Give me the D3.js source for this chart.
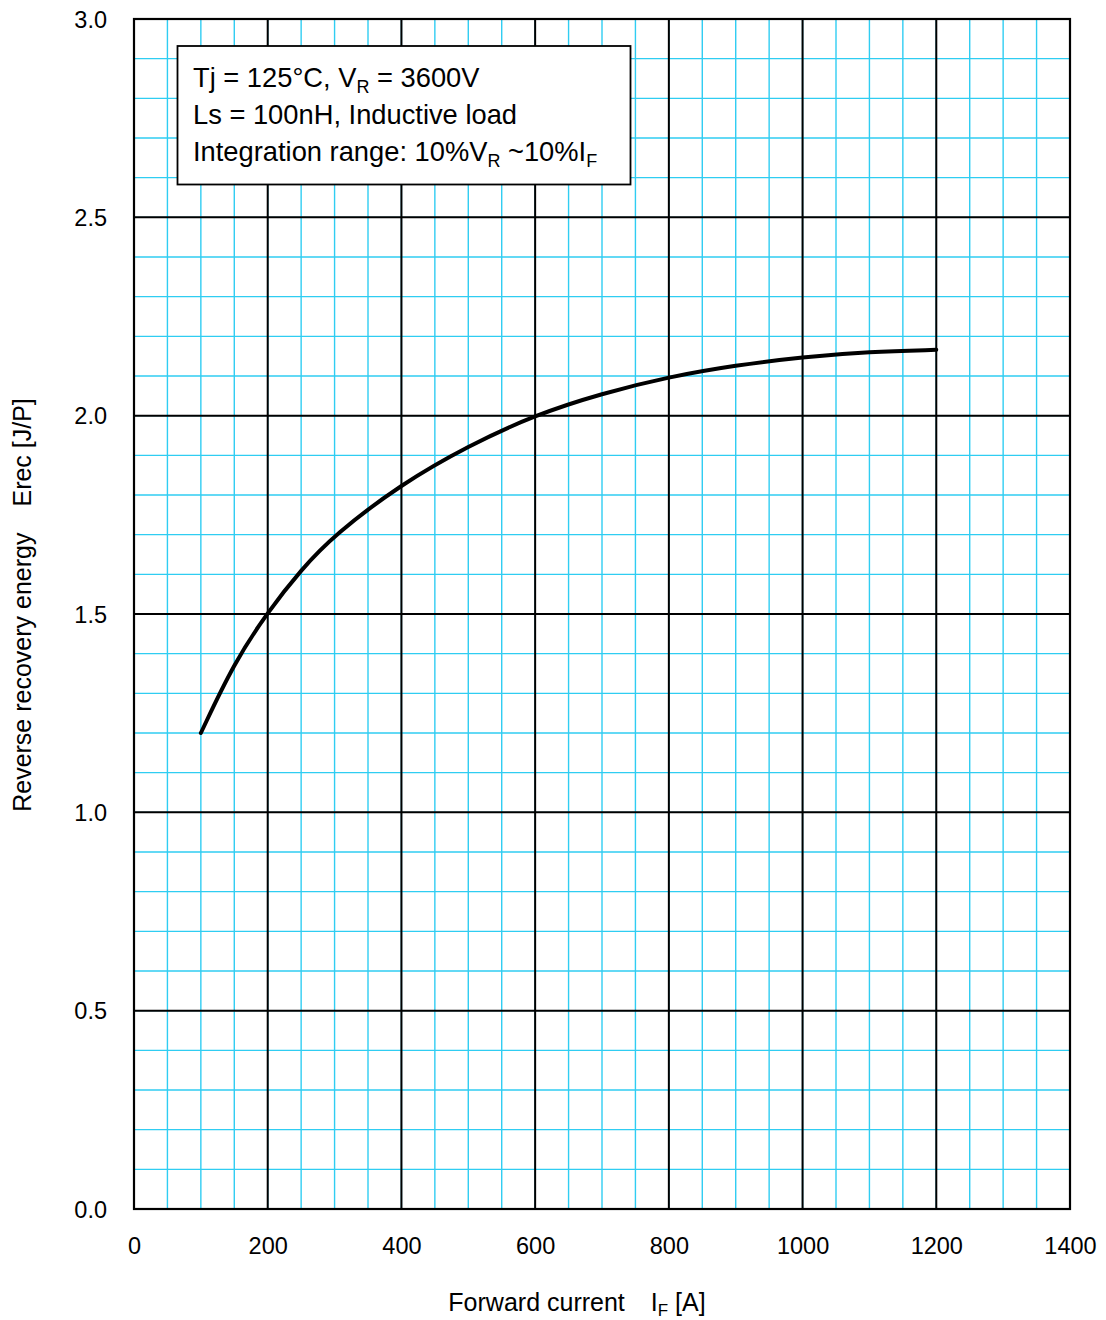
<!DOCTYPE html>
<html><head><meta charset="utf-8">
<script src="https://cdn.jsdelivr.net/npm/d3@7"></script>
<style>body{margin:0;background:#fff}svg{display:block;font-family:"Liberation Sans",Arial,sans-serif}</style>
</head><body>
<svg id="c" width="1106" height="1320"></svg>
<script>
const currentA = [100,150,200,250,300,400,500,600,700,800,900,1000,1100,1200];
const erecJ    = [1.20,1.378,1.505,1.612,1.700,1.828,1.924,2.002,2.056,2.098,2.127,2.148,2.161,2.166];
const xTicks = [0,200,400,600,800,1000,1200,1400];
const yTicks = [0,0.5,1.0,1.5,2.0,2.5,3.0];
const xMinor = d3.range(0,1401,50);
const yMinor = d3.range(0,31,1).map(v=>v/10);

const svg = d3.select("#c");
const L=134,R=1070,T=19,B=1209;
const x = d3.scaleLinear().domain([0,1400]).range([L,R]);
const y = d3.scaleLinear().domain([0,3]).range([B,T]);

// minor grid
svg.append("g").selectAll("line").data(xMinor).join("line")
  .attr("x1",d=>x(d)).attr("x2",d=>x(d)).attr("y1",T).attr("y2",B)
  .attr("stroke","#2fcdf2").attr("stroke-width",1.4);
svg.append("g").selectAll("line").data(yMinor).join("line")
  .attr("y1",d=>y(d)).attr("y2",d=>y(d)).attr("x1",L).attr("x2",R)
  .attr("stroke","#2fcdf2").attr("stroke-width",1.4);
// major grid
svg.append("g").selectAll("line").data(xTicks).join("line")
  .attr("x1",d=>x(d)).attr("x2",d=>x(d)).attr("y1",T).attr("y2",B)
  .attr("stroke","#000").attr("stroke-width",2);
svg.append("g").selectAll("line").data(yTicks).join("line")
  .attr("y1",d=>y(d)).attr("y2",d=>y(d)).attr("x1",L).attr("x2",R)
  .attr("stroke","#000").attr("stroke-width",2);
svg.append("rect").attr("x",L).attr("y",T).attr("width",R-L).attr("height",B-T)
  .attr("fill","none").attr("stroke","#000").attr("stroke-width",2.2);

// axes labels via d3 axes
const xAxis = d3.axisBottom(x).tickValues(xTicks).tickSize(0).tickPadding(0).tickFormat(d3.format("d"));
const gx = svg.append("g").attr("transform",`translate(0,${B})`).call(xAxis);
gx.select(".domain").remove();
gx.selectAll("text").attr("font-size",23.5).attr("fill","#000").attr("dy",null).attr("y",45)
  .attr("font-family","Liberation Sans, Arial, sans-serif");
const yAxis = d3.axisLeft(y).tickValues(yTicks).tickSize(0).tickPadding(0).tickFormat(d3.format(".1f"));
const gy = svg.append("g").attr("transform",`translate(${L},0)`).call(yAxis);
gy.select(".domain").remove();
gy.selectAll("text").attr("font-size",23.5).attr("fill","#000").attr("x",-27).attr("dy","0.35em")
  .attr("font-family","Liberation Sans, Arial, sans-serif");

// curve
const pts = currentA.map((a,i)=>[a,erecJ[i]]);
svg.append("path").datum(pts)
  .attr("d",d3.line().x(d=>x(d[0])).y(d=>y(d[1])).curve(d3.curveBasis))
  .attr("fill","none").attr("stroke","#000").attr("stroke-width",4).attr("stroke-linecap","round");

// legend box
svg.append("rect").attr("x",177.5).attr("y",46).attr("width",453).attr("height",138.5)
  .attr("fill","#fff").attr("stroke","#000").attr("stroke-width",1.8);
const fs=27.3, sub=18;
const t1 = svg.append("text").attr("x",193).attr("y",87).attr("font-size",fs);
t1.append("tspan").text("Tj = 125°C, V");
t1.append("tspan").attr("font-size",sub).attr("dy",6).text("R");
t1.append("tspan").attr("dy",-6).text(" = 3600V");
svg.append("text").attr("x",193).attr("y",124).attr("font-size",fs).text("Ls = 100nH, Inductive load");
const t3 = svg.append("text").attr("x",193).attr("y",161).attr("font-size",fs);
t3.append("tspan").text("Integration range: 10%V");
t3.append("tspan").attr("font-size",sub).attr("dy",6).text("R");
t3.append("tspan").attr("dy",-6).text(" ~10%I");
t3.append("tspan").attr("font-size",sub).attr("dy",6).text("F");

// axis titles
const xt = svg.append("text").attr("x",577).attr("y",1311).attr("text-anchor","middle").attr("font-size",25);
xt.append("tspan").text("Forward current");
xt.append("tspan").attr("dx",26).text("I");
xt.append("tspan").attr("font-size",17).attr("dy",5).text("F");
xt.append("tspan").attr("dy",-5).text(" [A]");
const yt = svg.append("text").attr("transform","translate(31,605) rotate(-90)").attr("text-anchor","middle").attr("font-size",25);
yt.append("tspan").text("Reverse recovery energy");
yt.append("tspan").attr("dx",26).text("Erec [J/P]");
</script>
</body></html>
